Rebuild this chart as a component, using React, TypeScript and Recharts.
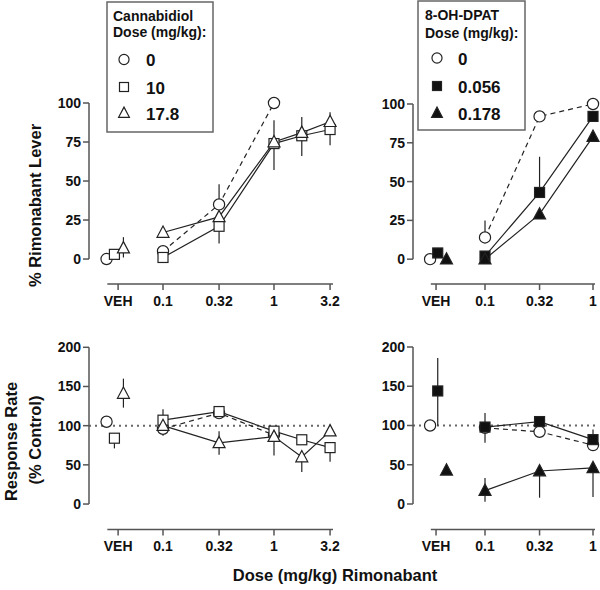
import React from 'react';
import { LineChart, Line, XAxis, YAxis, ReferenceLine, ErrorBar } from 'recharts';

type Err = [number, number] | null;

// ---------- categories / tick labels ----------
const LEFT_DOSES = [0.1, 0.32, 1, 1.78, 3.2];
const RIGHT_DOSES = [0.1, 0.32, 1];
const LEFT_TICK_DOSES = [0.1, 0.32, 1, 3.2];
const RIGHT_TICK_DOSES = [0.1, 0.32, 1];
const LEFT_TICK_LABELS = ['VEH', '0.1', '0.32', '1', '3.2'];
const RIGHT_TICK_LABELS = ['VEH', '0.1', '0.32', '1'];
const LEVER_TICKS = [0, 25, 50, 75, 100];
const RATE_TICKS = [0, 50, 100, 150, 200];

const CBD_TITLE = ['Cannabidiol', 'Dose (mg/kg):'];
const DPAT_TITLE = ['8-OH-DPAT', 'Dose (mg/kg):'];
const CBD_DOSE_LABELS = ['0', '10', '17.8'];
const DPAT_DOSE_LABELS = ['0', '0.056', '0.178'];

// ---------- % Rimonabant Lever, cannabidiol ----------
const CBD_LEVER_VEH = [0, 3, 7];
const CBD_LEVER_VEH_ERR: Err[] = [null, null, [6, 7]];
const CBD0_LEVER = [5, 35, 100, null, null];
const CBD10_LEVER = [1, 21, 74, 79, 83];
const CBD178_LEVER = [17, 27, 75, 81, 88];
const CBD0_LEVER_ERR: Err[] = [null, [0, 13], null, null, null];
const CBD10_LEVER_ERR: Err[] = [null, [11, 0], [17, 0], [13, 0], [10, 0]];
const CBD178_LEVER_ERR: Err[] = [null, null, [0, 14], [0, 10], [0, 6]];

// ---------- % Rimonabant Lever, 8-OH-DPAT ----------
const DPAT_LEVER_VEH = [0, 4, 0];
const DPAT_LEVER_VEH_ERR: Err[] = [null, null, null];
const DPAT0_LEVER = [14, 92, 100];
const DPAT056_LEVER = [2, 43, 92];
const DPAT178_LEVER = [0, 29, 79];
const DPAT0_LEVER_ERR: Err[] = [[0, 11], null, null];
const DPAT056_LEVER_ERR: Err[] = [null, [0, 23], null];
const DPAT178_LEVER_ERR: Err[] = [null, null, null];

// ---------- Response rate, cannabidiol ----------
const CBD_RATE_VEH = [105, 84, 141];
const CBD_RATE_VEH_ERR: Err[] = [null, [13, 0], [18, 19]];
const CBD0_RATE = [96, 116, 88, null, null];
const CBD10_RATE = [107, 118, 93, 82, 72];
const CBD178_RATE = [100, 78, 86, 60, 93];
const CBD0_RATE_ERR: Err[] = [[9, 0], null, null, null, null];
const CBD10_RATE_ERR: Err[] = [[0, 14], null, null, null, [18, 0]];
const CBD178_RATE_ERR: Err[] = [null, [15, 15], [24, 0], [19, 0], null];

// ---------- Response rate, 8-OH-DPAT ----------
const DPAT_RATE_VEH = [100, 144, 43];
const DPAT_RATE_VEH_ERR: Err[] = [null, [44, 42], null];
const DPAT0_RATE = [97, 92, 75];
const DPAT056_RATE = [98, 105, 82];
const DPAT178_RATE = [17, 42, 46];
const DPAT0_RATE_ERR: Err[] = [[19, 19], [6, 0], null];
const DPAT056_RATE_ERR: Err[] = [null, null, [0, 13]];
const DPAT178_RATE_ERR: Err[] = [[14, 16], [34, 0], [37, 0]];

// ---------- layout constants ----------
const FONT = '"Liberation Sans", Arial, Helvetica, sans-serif';
const AXIS = '#555';
const INK = '#222';
const SHAPES = ['circle', 'square', 'triangle'];
const VEH_MARK_X = [0.031, 0.0365, 0.044];
const AXIS_START = 0.0315;

function Marker({ shape, cx, cy, filled, scale = 1 }: any) {
  const fill = filled ? '#111' : '#fff';
  const sw = 1.2;
  if (shape === 'circle') {
    return <circle cx={cx} cy={cy} r={5.6 * scale} fill={fill} stroke={INK} strokeWidth={sw} />;
  }
  if (shape === 'square') {
    const h = 5 * scale;
    return <rect x={cx - h} y={cy - h} width={2 * h} height={2 * h} fill={fill} stroke={INK} strokeWidth={sw} />;
  }
  const w = 6 * scale;
  const t = 6.5 * scale;
  const b = 4.8 * scale;
  return (
    <polygon
      points={`${cx},${cy - t} ${cx - w},${cy + b} ${cx + w},${cy + b}`}
      fill={fill}
      stroke={INK}
      strokeWidth={sw}
      strokeLinejoin="miter"
    />
  );
}

function makeDot(shape: string, filled: boolean) {
  return (props: any) => {
    const { cx, cy, index } = props;
    if (cx == null || cy == null) return <g key={`n${index}`} />;
    return <Marker key={`d${index}`} shape={shape} cx={cx} cy={cy} filled={filled} />;
  };
}

function Panel(p: any) {
  const xTicks = [p.vehTick, ...p.tickDoses];
  const tickStyle = { fontSize: 14, fontWeight: 'bold', fill: '#111', fontFamily: FONT };
  return (
    <div style={{ position: 'absolute', left: p.left, top: p.top }}>
      <LineChart width={p.width} height={p.height} margin={p.margin}>
        <XAxis
          type="number"
          dataKey="x"
          scale="log"
          domain={p.xDomain}
          ticks={xTicks}
          interval={0}
          tickFormatter={(v: number) => p.tickLabels[xTicks.indexOf(v)]}
          axisLine={false}
          tickSize={6}
          tickMargin={6}
          height={1}
          tick={tickStyle}
          tickLine={{ stroke: AXIS, strokeWidth: 1.5 }}
        />
        <YAxis
          type="number"
          dataKey="y"
          domain={p.yDomain}
          ticks={p.yTicks}
          interval={0}
          width={1}
          axisLine={false}
          tickSize={6}
          tickMargin={2}
          tick={tickStyle}
          tickLine={{ stroke: AXIS, strokeWidth: 1.5 }}
        />
        {p.refLine && (
          <ReferenceLine y={100} stroke="#666" strokeDasharray="2 4" strokeWidth={2} ifOverflow="visible" />
        )}
        <ReferenceLine
          segment={[
            { x: p.xDomain[0], y: p.yTicks[0] },
            { x: p.xDomain[0], y: p.yTicks[p.yTicks.length - 1] },
          ]}
          stroke={AXIS}
          strokeWidth={1.5}
          ifOverflow="visible"
        />
        <ReferenceLine
          segment={[
            { x: AXIS_START, y: p.yDomain[0] },
            { x: p.xDomain[1], y: p.yDomain[0] },
          ]}
          stroke={AXIS}
          strokeWidth={1.5}
          ifOverflow="visible"
        />
        {p.series.map((vals: (number | null)[], s: number) => {
          const data = p.doses
            .map((d: number, i: number) => ({ x: d, y: vals[i], e: p.seriesErr[s][i] }))
            .filter((q: any) => q.y != null);
          return (
            <Line
              key={`s${s}`}
              data={data}
              dataKey="y"
              type="linear"
              stroke={INK}
              strokeWidth={1.2}
              strokeDasharray={s === 0 ? '5 4' : undefined}
              dot={makeDot(SHAPES[s], p.filled && s > 0)}
              activeDot={false}
              isAnimationActive={false}
            >
              <ErrorBar dataKey="e" direction="y" width={0} stroke={INK} strokeWidth={1.2} />
            </Line>
          );
        })}
        {p.veh.map((v: number, s: number) => (
          <Line
            key={`v${s}`}
            data={[{ x: VEH_MARK_X[s], y: v, e: p.vehErr[s] }]}
            dataKey="y"
            stroke="none"
            dot={makeDot(SHAPES[s], p.filled && s > 0)}
            activeDot={false}
            isAnimationActive={false}
          >
            <ErrorBar dataKey="e" direction="y" width={0} stroke={INK} strokeWidth={1.2} />
          </Line>
        ))}
      </LineChart>
    </div>
  );
}

function LegendBox(p: any) {
  return (
    <g>
      <rect x={p.x} y={p.y} width={p.w} height={p.h} fill="#fff" stroke="#666" strokeWidth={1.5} />
      <text x={p.titleX} y={p.titleY[0]} fontSize={14} fontWeight="bold" fill="#111" fontFamily={FONT}>
        {p.title[0]}
      </text>
      <text x={p.titleX} y={p.titleY[1]} fontSize={14} fontWeight="bold" fill="#111" fontFamily={FONT}>
        {p.title[1]}
      </text>
      {p.labels.map((l: string, i: number) => (
        <g key={l}>
          <Marker shape={SHAPES[i]} cx={p.markerX} cy={p.rowY[i]} filled={p.filled && i > 0} scale={0.9} />
          <text x={p.labelX} y={p.rowY[i] + 6.5} fontSize={17} fontWeight="bold" fill="#111" fontFamily={FONT}>
            {l}
          </text>
        </g>
      ))}
    </g>
  );
}

export default function App() {
  const leftX = [0.02154, 3.401];
  const rightX = [0.02154, 1.0435];
  const leverY = [-16, 100];
  const rateY = [-32.5, 200];
  return (
    <div style={{ position: 'absolute', left: 0, top: 0, width: 600, height: 590, background: '#fff', fontFamily: FONT }}>
      <Panel
        left={0} top={0} width={345} height={320}
        margin={{ top: 103, right: 12, bottom: 35, left: 88 }}
        xDomain={leftX} doses={LEFT_DOSES} tickDoses={LEFT_TICK_DOSES} tickLabels={LEFT_TICK_LABELS} vehTick={0.0394}
        yDomain={leverY} yTicks={LEVER_TICKS}
        veh={CBD_LEVER_VEH} vehErr={CBD_LEVER_VEH_ERR}
        series={[CBD0_LEVER, CBD10_LEVER, CBD178_LEVER]}
        seriesErr={[CBD0_LEVER_ERR, CBD10_LEVER_ERR, CBD178_LEVER_ERR]}
        filled={false}
      />
      <Panel
        left={300} top={0} width={300} height={320}
        margin={{ top: 104, right: 5, bottom: 35, left: 112 }}
        xDomain={rightX} doses={RIGHT_DOSES} tickDoses={RIGHT_TICK_DOSES} tickLabels={RIGHT_TICK_LABELS} vehTick={0.0352}
        yDomain={leverY} yTicks={LEVER_TICKS}
        veh={DPAT_LEVER_VEH} vehErr={DPAT_LEVER_VEH_ERR}
        series={[DPAT0_LEVER, DPAT056_LEVER, DPAT178_LEVER]}
        seriesErr={[DPAT0_LEVER_ERR, DPAT056_LEVER_ERR, DPAT178_LEVER_ERR]}
        filled={true}
      />
      <Panel
        left={0} top={320} width={345} height={270}
        margin={{ top: 27.3, right: 12, bottom: 59.5, left: 88 }}
        xDomain={leftX} doses={LEFT_DOSES} tickDoses={LEFT_TICK_DOSES} tickLabels={LEFT_TICK_LABELS} vehTick={0.0394}
        yDomain={rateY} yTicks={RATE_TICKS}
        veh={CBD_RATE_VEH} vehErr={CBD_RATE_VEH_ERR}
        series={[CBD0_RATE, CBD10_RATE, CBD178_RATE]}
        seriesErr={[CBD0_RATE_ERR, CBD10_RATE_ERR, CBD178_RATE_ERR]}
        filled={false}
        refLine
      />
      <Panel
        left={300} top={320} width={300} height={270}
        margin={{ top: 27, right: 5, bottom: 59.5, left: 112 }}
        xDomain={rightX} doses={RIGHT_DOSES} tickDoses={RIGHT_TICK_DOSES} tickLabels={RIGHT_TICK_LABELS} vehTick={0.0352}
        yDomain={rateY} yTicks={RATE_TICKS}
        veh={DPAT_RATE_VEH} vehErr={DPAT_RATE_VEH_ERR}
        series={[DPAT0_RATE, DPAT056_RATE, DPAT178_RATE]}
        seriesErr={[DPAT0_RATE_ERR, DPAT056_RATE_ERR, DPAT178_RATE_ERR]}
        filled={true}
        refLine
      />
      <svg width={600} height={590} style={{ position: 'absolute', left: 0, top: 0, pointerEvents: 'none' }}>
        <LegendBox
          x={107} y={2} w={106} h={130}
          titleX={113} titleY={[21, 36.5]} title={CBD_TITLE}
          labels={CBD_DOSE_LABELS} markerX={124} labelX={146} rowY={[59.5, 87, 113]}
          filled={false}
        />
        <LegendBox
          x={418} y={1} w={107} h={129}
          titleX={425} titleY={[19.5, 38]} title={DPAT_TITLE}
          labels={DPAT_DOSE_LABELS} markerX={437} labelX={458} rowY={[58, 86, 113]}
          filled={true}
        />
        <text
          x={35} y={205.5} transform="rotate(-90 35 205.5)" textAnchor="middle" dominantBaseline="central"
          fontSize={16.5} fontWeight="bold" fill="#111" fontFamily={FONT}
        >
          % Rimonabant Lever
        </text>
        <text
          x={11} y={441.5} transform="rotate(-90 11 441.5)" textAnchor="middle" dominantBaseline="central"
          fontSize={16.5} fontWeight="bold" fill="#111" fontFamily={FONT}
        >
          Response Rate
        </text>
        <text
          x={35} y={440} transform="rotate(-90 35 440)" textAnchor="middle" dominantBaseline="central"
          fontSize={16.5} fontWeight="bold" fill="#111" fontFamily={FONT}
        >
          (% Control)
        </text>
        <text x={335} y={581} textAnchor="middle" fontSize={16.5} fontWeight="bold" fill="#111" fontFamily={FONT}>
          Dose (mg/kg) Rimonabant
        </text>
      </svg>
    </div>
  );
}
